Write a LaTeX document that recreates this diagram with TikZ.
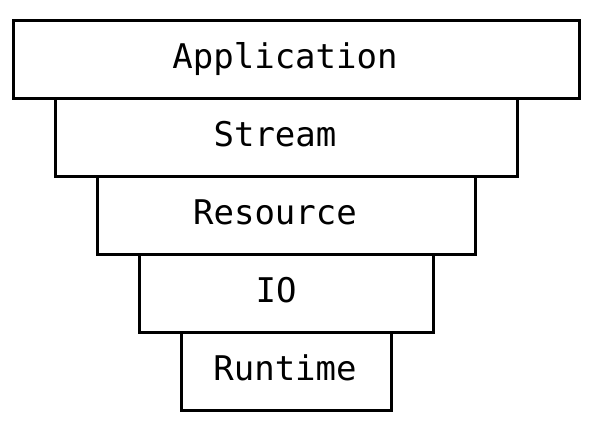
\documentclass[tikz,border=0pt]{standalone}
\usepackage{fontspec}
\setmonofont{DejaVu Sans Mono}
\begin{document}
\begin{tikzpicture}[x=1pt,y=-1pt,
  layer/.style={draw=black, line width=3pt, rectangle, inner sep=0pt, minimum height=78pt},
  lbl/.style={font=\ttfamily\fontsize{34}{40}\selectfont, anchor=base, inner sep=0pt}]
\useasboundingbox (0,0) rectangle (591,432);
\node[layer, minimum width=566pt] (app) at (296,59) {};
\node[layer, minimum width=462pt] (stream) at (286,137) {};
\node[layer, minimum width=378pt] (res) at (286,215) {};
\node[layer, minimum width=294pt] (io) at (286,293) {};
\node[layer, minimum width=210pt] (rt) at (286,371) {};
\node[lbl] (tapp) at (285,68) {Application};
\node[lbl] (tstream) at (275,146) {Stream};
\node[lbl] (tres) at (275,224) {Resource};
\node[lbl] (tio) at (276,302) {IO};
\node[lbl] (trt) at (285,380) {Runtime};
\end{tikzpicture}
\end{document}
